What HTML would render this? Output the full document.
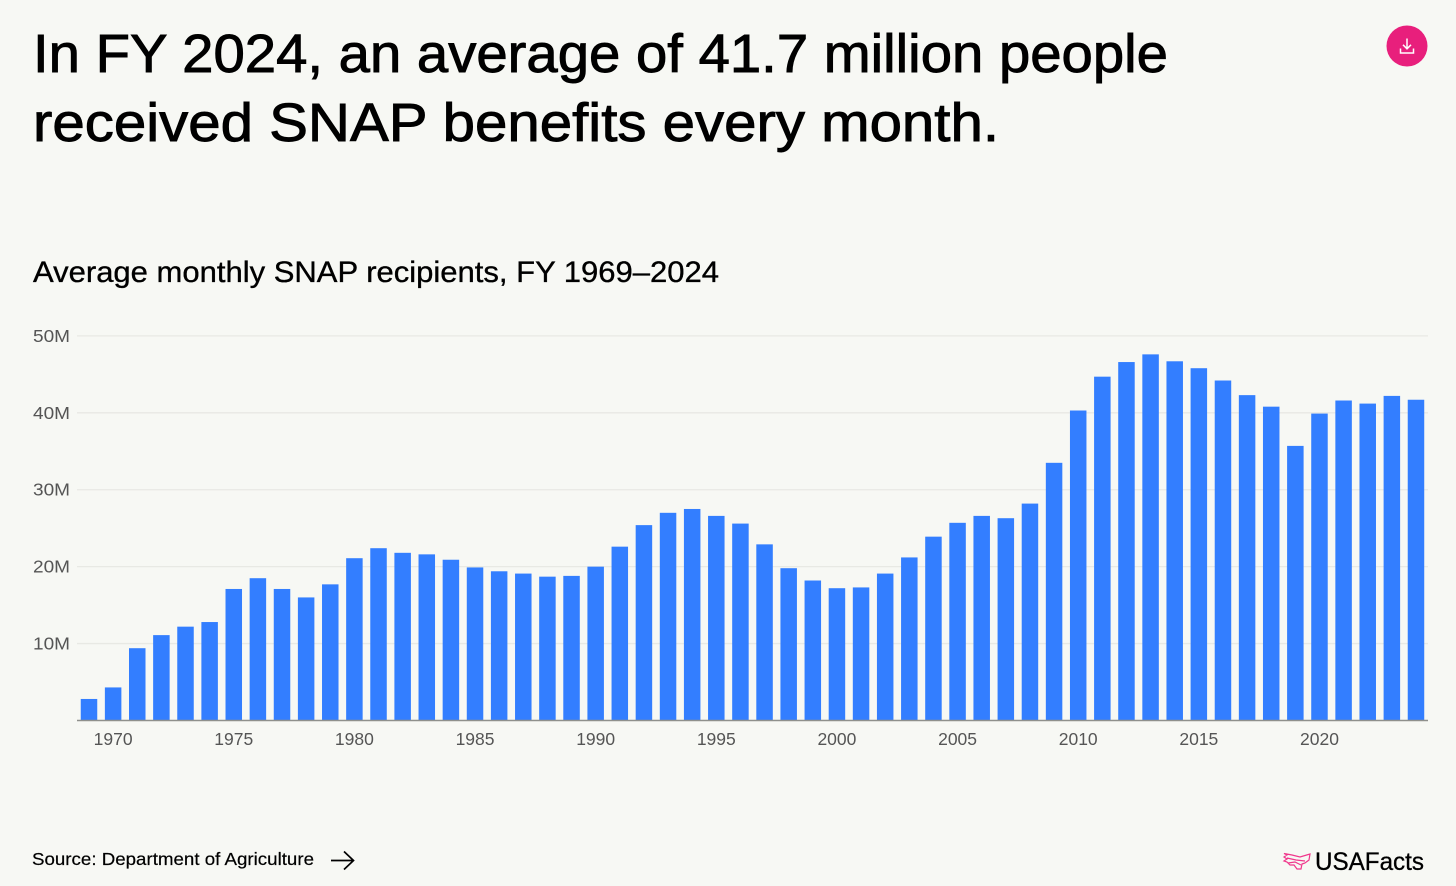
<!DOCTYPE html>
<html lang="en">
<head>
<meta charset="utf-8">
<title>SNAP recipients</title>
<style>
html,body{margin:0;padding:0;background:#f7f8f4;}
svg{display:block;font-family:"Liberation Sans",sans-serif;}
</style>
</head>
<body>
<svg id="chart" xmlns="http://www.w3.org/2000/svg" width="1456" height="886" viewBox="0 0 1456 886">
  <rect width="1456" height="886" fill="#f7f8f4"/>
  <text x="33" y="72" font-size="54" fill="#000" textLength="1135" lengthAdjust="spacingAndGlyphs" stroke="#000" stroke-width="0.9">In FY 2024, an average of 41.7 million people</text>
  <text x="33" y="141" font-size="54" fill="#000" textLength="966" lengthAdjust="spacingAndGlyphs" stroke="#000" stroke-width="0.9">received SNAP benefits every month.</text>
  <text x="33" y="282" font-size="30" fill="#000" textLength="686" lengthAdjust="spacingAndGlyphs" stroke="#000" stroke-width="0.35">Average monthly SNAP recipients, FY 1969–2024</text>
  <g id="grid"></g>
  <g id="bars"></g>
  <g id="axis"></g>
  <g>
    <circle cx="1407" cy="46" r="20.5" fill="#e81f7c"/>
    <path d="M1407 38.5v10M1403 44.8l4 4 4-4M1400.5 48.5v4.5h13v-4.5" fill="none" stroke="#fff" stroke-width="1.5"/>
  </g>
  <text x="32" y="865" font-size="17.5" fill="#000" textLength="282" lengthAdjust="spacingAndGlyphs" stroke="#000" stroke-width="0.2">Source: Department of Agriculture</text>
  <path d="M331 860.5h22M344 851.5l9.5 9-9.5 9" fill="none" stroke="#000" stroke-width="1.7"/>
  <path d="M1284 853.500l8 1.500 8 2 5-1.500 5-1.500-1 6-4 3-3 1-1 5-4 0-3-4-4 0-3-3-3-1 3-2-3-2 3-2zM1287 858l9 2 9 1M1288 863l7-1 6 3" fill="none" stroke="#f0378c" stroke-width="1.2"/>
  <text x="1315" y="870" font-size="25" fill="#000" textLength="109" lengthAdjust="spacingAndGlyphs" stroke="#000" stroke-width="0.3">USAFacts</text>
</svg>
<script>
const years = [1969,1970,1971,1972,1973,1974,1975,1976,1977,1978,1979,1980,1981,1982,1983,1984,1985,1986,1987,1988,1989,1990,1991,1992,1993,1994,1995,1996,1997,1998,1999,2000,2001,2002,2003,2004,2005,2006,2007,2008,2009,2010,2011,2012,2013,2014,2015,2016,2017,2018,2019,2020,2021,2022,2023,2024];
const recipients = [2.8,4.3,9.4,11.1,12.2,12.8,17.1,18.5,17.1,16.0,17.7,21.1,22.4,21.8,21.6,20.9,19.9,19.4,19.1,18.7,18.8,20.0,22.6,25.4,27.0,27.5,26.6,25.6,22.9,19.8,18.2,17.2,17.3,19.1,21.2,23.9,25.7,26.6,26.3,28.2,33.5,40.3,44.7,46.6,47.6,46.7,45.8,44.2,42.3,40.8,35.7,39.9,41.6,41.2,42.2,41.7];
const yTicks = [10,20,30,40,50];
const xTicks = [1970,1975,1980,1985,1990,1995,2000,2005,2010,2015,2020];

const NS = 'http://www.w3.org/2000/svg';
const plotLeft = 77, plotRight = 1428, baseY = 720.5, yPerUnit = 7.692;
const firstX = 89, stepX = 24.127, barW = 16.5;
const xScale = y => firstX + (y - years[0]) * stepX;
const yScale = v => baseY - v * yPerUnit;

function make(tag, attrs, parent, text) {
  const el = document.createElementNS(NS, tag);
  for (const k in attrs) el.setAttribute(k, attrs[k]);
  if (text !== undefined) el.textContent = text;
  parent.appendChild(el);
  return el;
}
const grid = document.getElementById('grid');
const bars = document.getElementById('bars');
const axis = document.getElementById('axis');

yTicks.forEach(t => {
  const line = make('line', {x1: plotLeft, x2: plotRight, y1: yScale(t), y2: yScale(t), stroke: '#e8e9e4', 'stroke-width': 1.3}, grid);
  
  
  const label = make('text', {x: 33, y: yScale(t) + 6, 'font-size': 17.5, fill: '#555', textLength: 37, lengthAdjust: 'spacingAndGlyphs'}, grid, t + 'M');
  
  
});

recipients.forEach((v, i) => {
  const r = make('rect', {x: xScale(years[i]) - barW / 2, y: yScale(v), width: barW, height: baseY - yScale(v), fill: '#337eff'}, bars);
  
  
});

const baseline = make('line', {x1: plotLeft, x2: plotRight, y1: baseY, y2: baseY, stroke: '#8f908c', 'stroke-width': 1.4}, axis);



xTicks.forEach(t => {
  const label = make('text', {x: xScale(t), y: 745, 'text-anchor': 'middle', 'font-size': 17.5, fill: '#555'}, axis, t);
  
  
});
</script>
</body>
</html>
